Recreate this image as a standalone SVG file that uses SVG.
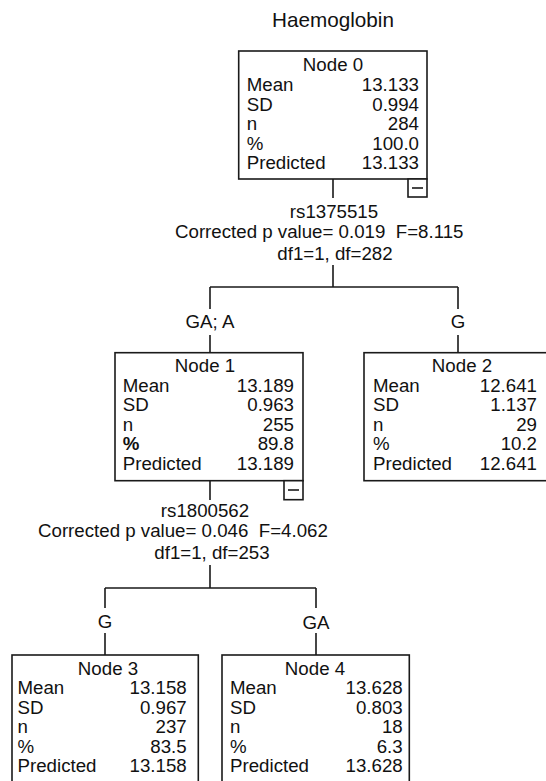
<svg xmlns="http://www.w3.org/2000/svg" width="546" height="781" viewBox="0 0 546 781">
<style>
text{font-family:"Liberation Sans",Arial,sans-serif;font-size:18.7px;fill:#111}
.title{font-size:20.7px}
.box{fill:#fff;stroke:#1a1a1a;stroke-width:1.6}
.ln{stroke:#1a1a1a;stroke-width:1.6;fill:none}
.r{text-anchor:end}
.m{text-anchor:middle}
</style>
<rect width="546" height="781" fill="#fff"/>
<text class="title m" x="333" y="27">Haemoglobin</text>
<g id="connectors">
<path class="ln" d="M333 179V198M333 265V287M210 287H458M210 287V309M458 287V309M210 335V353M458 335V353"/>
<path class="ln" d="M210 481V500M210 565V588M105 588H316M105 588V608M316 588V608M105 633V655M316 633V655"/>
<text class="m" x="334" y="218">rs1375515</text>
<text x="175" y="237.5" xml:space="preserve">Corrected p value= 0.019  F=8.115</text>
<text class="m" x="335" y="259.5">df1=1, df=282</text>
<text class="m" x="210" y="328">GA; A</text>
<text class="m" x="458" y="328">G</text>
<text class="m" x="205" y="517">rs1800562</text>
<text x="38" y="536.5" xml:space="preserve">Corrected p value= 0.046  F=4.062</text>
<text class="m" x="212" y="558.5">df1=1, df=253</text>
<text class="m" x="105" y="628">G</text>
<text class="m" x="316" y="629">GA</text>
</g>
<g id="node0">
<rect class="box" x="238.7" y="51" width="188.3" height="128"/>
<rect class="box" x="408" y="179" width="19" height="18"/>
<path class="ln" d="M412 188H423"/>
<text class="m" x="333" y="71">Node 0</text>
<text x="246.7" y="91">Mean</text><text class="r" x="419" y="91">13.133</text>
<text x="246.7" y="110.5">SD</text><text class="r" x="419" y="110.5">0.994</text>
<text x="246.7" y="130">n</text><text class="r" x="419" y="130">284</text>
<text x="246.7" y="149.5">%</text><text class="r" x="419" y="149.5">100.0</text>
<text x="246.7" y="169">Predicted</text><text class="r" x="419" y="169">13.133</text>
</g>
<g id="node1">
<rect class="box" x="115" y="352.7" width="188" height="128"/>
<rect class="box" x="284" y="480.7" width="19" height="19"/>
<path class="ln" d="M288 490H299"/>
<text class="m" x="205" y="372">Node 1</text>
<text x="122.7" y="391.7">Mean</text><text class="r" x="294" y="391.7">13.189</text>
<text x="122.7" y="411.2">SD</text><text class="r" x="294" y="411.2">0.963</text>
<text x="122.7" y="430.7">n</text><text class="r" x="294" y="430.7">255</text>
<text x="122.7" y="450.2" font-weight="bold">%</text><text class="r" x="294" y="450.2">89.8</text>
<text x="122.7" y="469.7">Predicted</text><text class="r" x="294" y="469.7">13.189</text>
</g>
<g id="node2">
<rect class="box" x="364" y="352.7" width="188" height="128"/>
<text class="m" x="462" y="372">Node 2</text>
<text x="373" y="391.7">Mean</text><text class="r" x="537" y="391.7">12.641</text>
<text x="373" y="411.2">SD</text><text class="r" x="537" y="411.2">1.137</text>
<text x="373" y="430.7">n</text><text class="r" x="537" y="430.7">29</text>
<text x="373" y="450.2">%</text><text class="r" x="537" y="450.2">10.2</text>
<text x="373" y="469.7">Predicted</text><text class="r" x="537" y="469.7">12.641</text>
</g>
<g id="node3">
<rect class="box" x="12" y="655" width="186.3" height="128"/>
<text class="m" x="108" y="674.5">Node 3</text>
<text x="17.5" y="694">Mean</text><text class="r" x="186.7" y="694">13.158</text>
<text x="17.5" y="713.5">SD</text><text class="r" x="186.7" y="713.5">0.967</text>
<text x="17.5" y="733">n</text><text class="r" x="186.7" y="733">237</text>
<text x="17.5" y="752.5">%</text><text class="r" x="186.7" y="752.5">83.5</text>
<text x="17.5" y="772">Predicted</text><text class="r" x="186.7" y="772">13.158</text>
</g>
<g id="node4">
<rect class="box" x="222" y="655" width="187.3" height="128"/>
<text class="m" x="315" y="674.5">Node 4</text>
<text x="230" y="694">Mean</text><text class="r" x="402.7" y="694">13.628</text>
<text x="230" y="713.5">SD</text><text class="r" x="402.7" y="713.5">0.803</text>
<text x="230" y="733">n</text><text class="r" x="402.7" y="733">18</text>
<text x="230" y="752.5">%</text><text class="r" x="402.7" y="752.5">6.3</text>
<text x="230" y="772">Predicted</text><text class="r" x="402.7" y="772">13.628</text>
</g>
</svg>
